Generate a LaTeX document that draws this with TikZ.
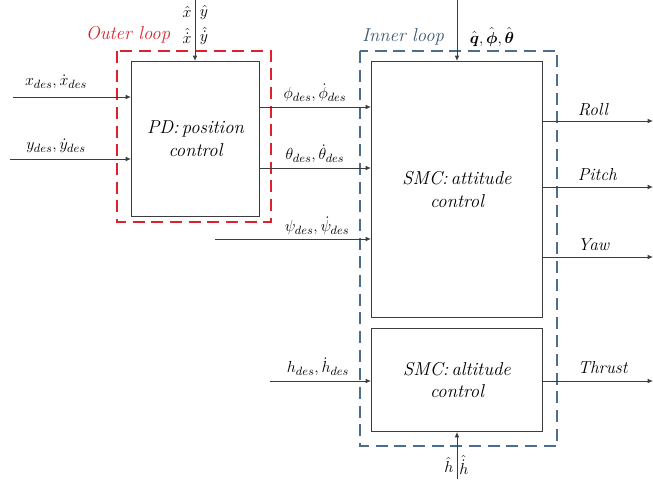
\documentclass[tikz,border=0pt]{standalone}
\usepackage{amsmath}
\usetikzlibrary{arrows.meta}
\definecolor{outerred}{RGB}{220,35,45}
\definecolor{innerblue}{RGB}{75,110,140}
\definecolor{linegray}{RGB}{60,60,60}
\begin{document}
\begin{tikzpicture}[x=0.75pt,y=-0.75pt,
  blockbox/.style={draw=linegray,line width=0.7pt,fill=white},
  sig/.style={draw=linegray,line width=0.7pt,-{Latex[length=4pt,width=3.5pt]}},
  lbl/.style={font=\fontsize{12.5}{14}\selectfont,inner sep=0.5pt},
  wordlbl/.style={font=\fontsize{13}{15}\selectfont\itshape,inner sep=0.5pt},
  outerdash/.style={draw=outerred,line width=2.2pt,dash pattern=on 9pt off 5pt},
  innerdash/.style={draw=innerblue,line width=2.2pt,dash pattern=on 9pt off 5pt},
  boxtext/.style={font=\fontsize{14}{17}\selectfont\itshape,align=center}]
\useasboundingbox (0,0) rectangle (653,479);
% loops
\draw[outerdash] (117,51) rectangle (271,222);
\draw[innerdash] (360,51) rectangle (557,446);
\node[wordlbl,text=outerred,font=\fontsize{14}{16}\selectfont\itshape] (outerlbl) at (128,35) {Outer loop};
\node[wordlbl,text=innerblue!80!black,font=\fontsize{14}{16}\selectfont\itshape] (innerlbl) at (403,37) {Inner loop};
% blocks
\node[blockbox,minimum width=128*0.75pt,minimum height=155*0.75pt,anchor=north west] (pd) at (131,61) {};
\node[boxtext] at (pd.center) {PD:\,position\\control};
\node[blockbox,minimum width=171*0.75pt,minimum height=256*0.75pt,anchor=north west] (att) at (371,61) {};
\node[boxtext] at (att.center) {SMC:\,attitude\\control};
\node[blockbox,minimum width=171*0.75pt,minimum height=103*0.75pt,anchor=north west] (alt) at (371,328) {};
\node[boxtext] at (alt.center) {SMC:\,altitude\\control};
% top feedback into PD
\coordinate (pdfb) at (195,0);
\draw[sig] (pdfb) -- (pdfb |- pd.north);
\node[lbl] (xh1) at (187,12) {$\hat{x}$};
\node[lbl] (yh1) at (204,12) {$\hat{y}$};
\node[lbl] (xh2) at (187,36) {$\hat{\dot{x}}$};
\node[lbl] (yh2) at (204,36) {$\hat{\dot{y}}$};
% top feedback into attitude
\coordinate (attfb) at (457,0);
\draw[sig] (attfb) -- (attfb |- att.north);
\node[lbl] (qlbl) at (492,37) {$\hat{\boldsymbol{q}},\hat{\boldsymbol{\phi}},\hat{\boldsymbol{\theta}}$};
% bottom feedback into altitude
\coordinate (altfb) at (457,479);
\draw[sig] (altfb) -- (altfb |- alt.south);
\node[lbl] (hh1) at (449,465) {$\hat{h}$};
\node[lbl] (hh2) at (464,465) {$\hat{\dot{h}}$};
% inputs to PD
\coordinate (xin) at (13,97);
\coordinate (yin) at (10,159);
\draw[sig] (xin) -- (pd.west |- xin);
\draw[sig] (yin) -- (pd.west |- yin);
\node[lbl] (xlbl) at (56,82) {$x_{des},\dot{x}_{des}$};
\node[lbl] (ylbl) at (56,146) {$y_{des},\dot{y}_{des}$};
% PD outputs to attitude
\coordinate (phiout) at (pd.east |- 0,107);
\coordinate (thout) at (pd.east |- 0,168);
\draw[sig] (phiout) -- (att.west |- phiout);
\draw[sig] (thout) -- (att.west |- thout);
\node[lbl] (philbl) at (315,93) {$\phi_{des},\dot{\phi}_{des}$};
\node[lbl] (thlbl) at (315,154) {$\theta_{des},\dot{\theta}_{des}$};
\coordinate (psiin) at (215,239);
\draw[sig] (psiin) -- (att.west |- psiin);
\node[lbl] (psilbl) at (317,226) {$\psi_{des},\dot{\psi}_{des}$};
\coordinate (hin) at (270,381);
\draw[sig] (hin) -- (alt.west |- hin);
\node[lbl] (hlbl) at (318,367) {$h_{des},\dot{h}_{des}$};
% outputs
\coordinate (rollend) at (653,121);
\coordinate (pitchend) at (653,187);
\coordinate (yawend) at (653,257);
\coordinate (thrustend) at (653,381);
\draw[sig] (att.east |- rollend) -- (rollend);
\draw[sig] (att.east |- pitchend) -- (pitchend);
\draw[sig] (att.east |- yawend) -- (yawend);
\draw[sig] (alt.east |- thrustend) -- (thrustend);
\node[wordlbl,anchor=west] (roll) at (577,110) {Roll};
\node[wordlbl,anchor=west] (pitch) at (577,175) {Pitch};
\node[wordlbl,anchor=west] (yaw) at (577,245) {Yaw};
\node[wordlbl,anchor=west] (thrust) at (577,368) {Thrust};
\end{tikzpicture}
\end{document}
